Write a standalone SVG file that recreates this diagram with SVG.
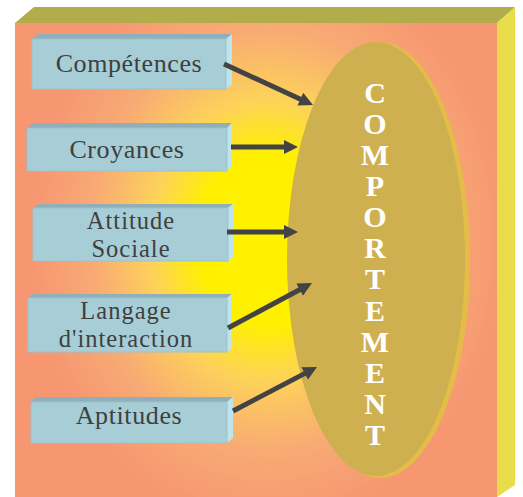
<svg xmlns="http://www.w3.org/2000/svg" width="523" height="497" viewBox="0 0 523 497">
<defs>
<radialGradient id="bg" gradientUnits="userSpaceOnUse" cx="268" cy="240" r="235" gradientTransform="translate(268 240) scale(1 1.2) translate(-268 -240)">
<stop offset="0" stop-color="#fff200"/>
<stop offset="0.3" stop-color="#fff000"/>
<stop offset="0.5" stop-color="#fdd25a"/>
<stop offset="0.75" stop-color="#f8aa74"/>
<stop offset="1" stop-color="#f69772"/>
</radialGradient>
<marker id="ah" markerUnits="userSpaceOnUse" markerWidth="16" markerHeight="16" refX="2" refY="7" orient="auto">
<path d="M0,0 L14,7 L0,14 z" fill="#434343"/>
</marker>
<style>
.front{fill:#a7cdd7;stroke:#9cc2cc;stroke-width:1}
.top{fill:#8fb0ba}
.side{fill:#c0e4ec}
.lbl{font-size:26px;letter-spacing:0.6px;fill:#3f3f3f;text-anchor:middle}
.lbl2{font-size:24.5px;letter-spacing:1px;fill:#3f3f3f;text-anchor:middle}
.big{font-size:30px;font-weight:bold;fill:#ffffff;text-anchor:middle}
.arr{stroke:#434343;stroke-width:5;fill:none;marker-end:url(#ah)}
</style>
</defs>
<g id="frame">
<polygon points="15,23 34,7 515,7 497,23" fill="#b0ad4a"/>
<polygon points="497,23 515,7 515,485 497,497" fill="#e8dc4a"/>
<rect x="15" y="23" width="482" height="474" fill="url(#bg)"/>
</g>
<g id="comportement" font-family="'Liberation Serif', 'Times New Roman', serif">
<ellipse cx="380" cy="260" rx="90" ry="218" fill="#e3bd48"/>
<ellipse cx="376" cy="259" rx="89" ry="217" fill="#cfb050"/>
<text class="big" x="375" y="102.5">C</text>
<text class="big" x="375" y="133.6">O</text>
<text class="big" x="375" y="164.8">M</text>
<text class="big" x="375" y="195.9">P</text>
<text class="big" x="375" y="227.1">O</text>
<text class="big" x="375" y="258.2">R</text>
<text class="big" x="375" y="289.3">T</text>
<text class="big" x="375" y="320.5">E</text>
<text class="big" x="375" y="351.6">M</text>
<text class="big" x="375" y="382.8">E</text>
<text class="big" x="375" y="413.9">N</text>
<text class="big" x="375" y="445">T</text>
</g>
<g id="competences" font-family="'Liberation Serif', 'Times New Roman', serif">
<polygon class="top" points="32,39 38,34 232,34 226,39"/>
<polygon class="side" points="226,39 232,34 232,84 226,89"/>
<rect class="front" x="32" y="39" width="194" height="50"/>
<text class="lbl" x="129" y="72">Compétences</text>
</g>
<g id="croyances" font-family="'Liberation Serif', 'Times New Roman', serif">
<polygon class="top" points="27,128 33,123 232,123 227,128"/>
<polygon class="side" points="227,128 232,123 232,166 227,171"/>
<rect class="front" x="27" y="128" width="200" height="43"/>
<text class="lbl" x="127" y="158">Croyances</text>
</g>
<g id="attitude" font-family="'Liberation Serif', 'Times New Roman', serif">
<polygon class="top" points="33,208 38,204 233,204 228,208"/>
<polygon class="side" points="228,208 233,204 233,257 228,261"/>
<rect class="front" x="33" y="208" width="195" height="53"/>
<text class="lbl2" x="131" y="229">Attitude</text>
<text class="lbl2" x="131" y="256.5">Sociale</text>
</g>
<g id="langage" font-family="'Liberation Serif', 'Times New Roman', serif">
<polygon class="top" points="28,298 33,294 232,294 227,298"/>
<polygon class="side" points="227,298 232,294 232,348 227,352"/>
<rect class="front" x="28" y="298" width="199" height="54"/>
<text class="lbl2" x="126" y="319">Langage</text>
<text class="lbl2" x="126" y="346.5">d'interaction</text>
</g>
<g id="aptitudes" font-family="'Liberation Serif', 'Times New Roman', serif">
<polygon class="top" points="31,402 36,397 233,397 227,402"/>
<polygon class="side" points="227,402 233,397 233,438 227,443"/>
<rect class="front" x="31" y="402" width="196" height="41"/>
<text class="lbl" x="129" y="424">Aptitudes</text>
</g>
<g id="connectors">
<line class="arr" x1="224" y1="64" x2="302.1" y2="100"/>
<line class="arr" x1="231" y1="147" x2="286" y2="147"/>
<line class="arr" x1="227" y1="232" x2="286" y2="232"/>
<line class="arr" x1="228" y1="328" x2="301.4" y2="288.7"/>
<line class="arr" x1="233" y1="411" x2="306.4" y2="372.6"/>
</g>
</svg>
